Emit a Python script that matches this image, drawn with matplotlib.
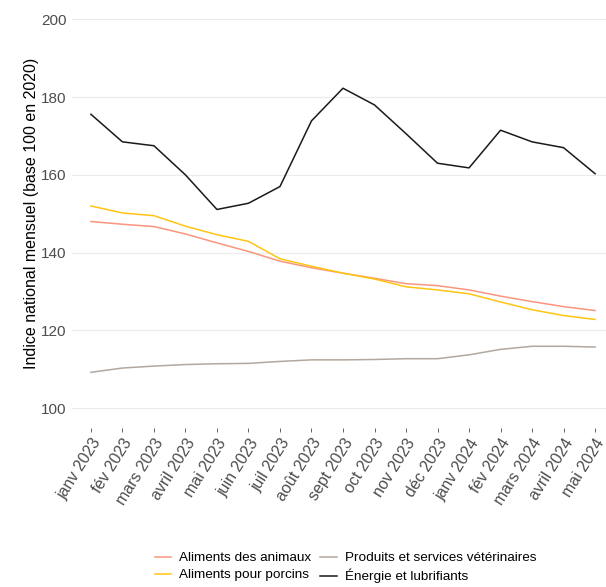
import numpy as np
import matplotlib
matplotlib.use('Agg')
import matplotlib.pyplot as plt

plt.rcParams['font.family'] = ['Liberation Sans', 'DejaVu Sans']

# Monthly labels
months = ['janv 2023', 'fév 2023', 'mars 2023', 'avril 2023', 'mai 2023', 'juin 2023',
          'juil 2023', 'août 2023', 'sept 2023', 'oct 2023', 'nov 2023', 'déc 2023',
          'janv 2024', 'fév 2024', 'mars 2024', 'avril 2024', 'mai 2024']

# Index values (base 100 in 2020)
aliments_animaux = [148.0, 147.3, 146.7, 144.8, 142.5, 140.3, 137.8, 136.1, 134.7,
                    133.4, 132.0, 131.5, 130.4, 128.8, 127.4, 126.1, 125.1]
aliments_porcins = [152.0, 150.2, 149.5, 146.8, 144.6, 142.9, 138.4, 136.5, 134.7,
                    133.2, 131.2, 130.4, 129.4, 127.3, 125.3, 123.8, 122.8]
produits_veto = [109.2, 110.3, 110.8, 111.2, 111.4, 111.5, 112.0, 112.4, 112.4,
                 112.5, 112.7, 112.7, 113.7, 115.1, 115.9, 115.9, 115.7]
energie = [175.6, 168.5, 167.5, 160.0, 151.1, 152.7, 157.0, 173.9, 182.3,
           178.0, 170.6, 163.0, 161.8, 171.5, 168.5, 167.0, 160.3]

series_names = ['Aliments des animaux', 'Aliments pour porcins',
                'Produits et services vétérinaires', 'Énergie et lubrifiants']
series_vals = [aliments_animaux, aliments_porcins, produits_veto, energie]
colors = ['#F9967D', '#FFC512', '#B3A89E', '#1A1A1A']

fig = plt.figure(figsize=(6.06, 5.87), dpi=100)
ax = fig.add_axes([72 / 606, 1 - 427.5 / 587, 542 / 606, 427.5 / 587])

x = np.arange(len(months))
lines = []
for name, vals, col in zip(series_names, series_vals, colors):
    ln, = ax.plot(x, vals, color=col, lw=1.1, label=name)
    lines.append(ln)

ax.set_xlim(-0.6, len(months) - 0.4)
ax.set_ylim(95, 205)
ax.set_yticks([100, 120, 140, 160, 180, 200])
ax.set_xticks(x)
ax.set_xticklabels(months, rotation=58, ha='right', va='top', rotation_mode='anchor')

ax.grid(axis='y', color='#EBEBEB', lw=0.8)
ax.grid(axis='x', visible=False)
ax.set_axisbelow(True)
for s in ax.spines.values():
    s.set_visible(False)

ax.tick_params(axis='y', length=0, labelsize=11, labelcolor='#4D4D4D', pad=4)
ax.tick_params(axis='x', length=3, color='#4D4D4D', width=0.6, labelsize=11.5,
               labelcolor='#4D4D4D', pad=3)

ax.set_ylabel('Indice national mensuel (base 100 en 2020)', fontsize=11.5, color='black')
ax.yaxis.set_label_coords(-0.061, 0.5)

fig.legend(lines, series_names, ncol=2, loc='center', bbox_to_anchor=(0.57, 0.033),
           frameon=False, fontsize=9.7, handlelength=1.2, handletextpad=0.6,
           columnspacing=0.7, labelspacing=0.35)

fig.savefig('out.png', dpi=100)
